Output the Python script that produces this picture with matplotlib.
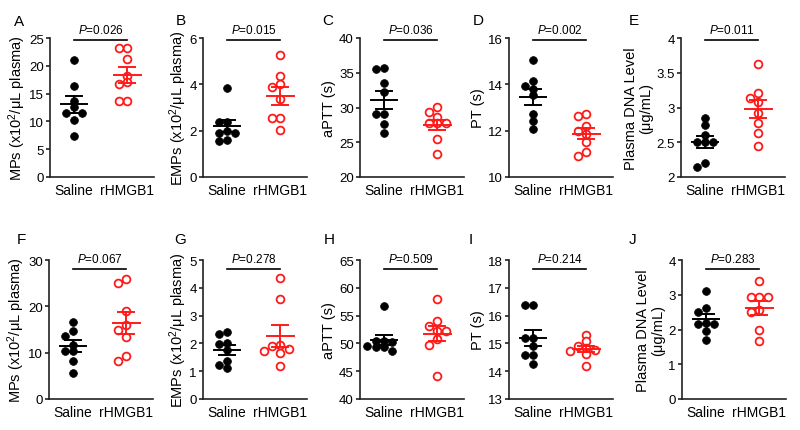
import numpy as np
import matplotlib
matplotlib.use("Agg")
import matplotlib.pyplot as plt

plt.rcParams['font.family'] = ['Liberation Sans', 'DejaVu Sans']
plt.rcParams['mathtext.fontset'] = 'custom'
plt.rcParams['mathtext.rm'] = 'Liberation Sans'
plt.rcParams['mathtext.it'] = 'Liberation Sans:italic'

# ---- data ----
groups = ["Saline", "rHMGB1"]
panel_letters = ["A", "B", "C", "D", "E", "F", "G", "H", "I", "J"]
p_values = ["0.026", "0.015", "0.036", "0.002", "0.011",
            "0.067", "0.278", "0.509", "0.214", "0.283"]

a_saline = [21.0, 16.3, 13.7, 12.6, 11.6, 11.6, 10.2, 7.4]
a_rhmgb1 = [23.2, 23.2, 21.3, 18.1, 17.0, 16.8, 13.6, 13.6]
b_saline = [3.86, 2.38, 2.38, 2.0, 1.88, 1.88, 1.6, 1.55]
b_rhmgb1 = [5.25, 4.36, 4.0, 3.9, 3.35, 2.53, 2.53, 2.05]
c_saline = [35.7, 35.5, 33.5, 32.3, 29.0, 29.0, 27.6, 26.4]
c_rhmgb1 = [30.1, 29.3, 28.7, 27.7, 27.7, 27.7, 25.5, 23.3]
d_saline = [15.03, 14.14, 13.93, 13.81, 13.53, 12.72, 12.4, 12.06]
d_rhmgb1 = [12.71, 12.63, 12.2, 11.97, 11.87, 11.51, 11.1, 10.91]
e_saline = [2.85, 2.75, 2.61, 2.51, 2.51, 2.51, 2.20, 2.14]
e_rhmgb1 = [3.63, 3.21, 3.14, 3.08, 2.92, 2.78, 2.63, 2.44]
f_saline = [16.7, 14.7, 13.5, 11.7, 10.3, 10.3, 8.1, 5.7]
f_rhmgb1 = [25.8, 25.0, 19.1, 16.0, 14.9, 13.3, 9.2, 8.1]
g_saline = [2.40, 2.34, 2.02, 1.99, 1.75, 1.37, 1.22, 1.10]
g_rhmgb1 = [4.36, 3.59, 1.93, 1.91, 1.79, 1.73, 1.65, 1.17]
h_saline = [56.7, 50.5, 50.4, 50.3, 49.5, 49.4, 49.3, 48.6]
h_rhmgb1 = [58.0, 54.0, 53.1, 52.2, 52.2, 50.8, 49.8, 44.1]
i_saline = [16.39, 16.39, 15.2, 15.19, 14.89, 14.59, 14.59, 14.27]
i_rhmgb1 = [15.31, 15.09, 14.89, 14.84, 14.77, 14.71, 14.62, 14.17]
j_saline = [3.12, 2.63, 2.49, 2.2, 2.15, 2.15, 1.96, 1.71]
j_rhmgb1 = [3.41, 2.93, 2.93, 2.93, 2.57, 2.5, 1.98, 1.66]

saline_sets = [a_saline, b_saline, c_saline, d_saline, e_saline,
               f_saline, g_saline, h_saline, i_saline, j_saline]
rhmgb1_sets = [a_rhmgb1, b_rhmgb1, c_rhmgb1, d_rhmgb1, e_rhmgb1,
               f_rhmgb1, g_rhmgb1, h_rhmgb1, i_rhmgb1, j_rhmgb1]

mp_label = r"MPs (x10$^{2}$/μL plasma)"
emp_label = r"EMPs (x10$^{2}$/μL plasma)"
dna_label = "Plasma DNA Level\n(μg/mL)"
y_labels = [mp_label, emp_label, "aPTT (s)", "PT (s)", dna_label,
            mp_label, emp_label, "aPTT (s)", "PT (s)", dna_label]
y_ticks = [[0, 5, 10, 15, 20, 25], [0, 2, 4, 6], [20, 25, 30, 35, 40],
           [10, 12, 14, 16], [2, 2.5, 3, 3.5, 4],
           [0, 10, 20, 30], [0, 1, 2, 3, 4, 5], [40, 45, 50, 55, 60, 65],
           [13, 14, 15, 16, 17, 18], [0, 1, 2, 3, 4]]

# ---- layout ----
W, H = 800, 431
fig = plt.figure(figsize=(W / 100, H / 100), dpi=100)
lefts_px = [50, 203, 360, 509, 681, 49, 203, 360, 509, 682]
ax_w_px, ax_h_px = 104, 139
bottoms_px = [178] * 5 + [400] * 5
letter_pos = [(19, 22), (181, 21), (328, 21), (478, 21), (634, 21),
              (21, 240), (180, 240), (329, 240), (471, 240), (633, 240)]
line_below_px = [2] * 5 + [9] * 5
label_pads = [0.5, 0.5, 2, 2, 2, 0.5, 0.5, 2, 2, 2]

XMIN, XMAX = -0.45, 1.5
px_per_x = ax_w_px / (XMAX - XMIN)


def swarm_offsets(vals, px_per_y, step_px=8.3, min_px=6.0):
    vals = np.asarray(vals, float)
    order = np.argsort(-vals, kind="stable")
    placed = []
    offs = np.zeros(len(vals))
    for i in order:
        y = vals[i] * px_per_y
        chosen = 0.0
        for k in [0, -1, 1, -2, 2, -3, 3]:
            x = k * step_px
            if all(np.hypot(x - px, y - py) >= min_px for px, py in placed):
                chosen = x
                break
        placed.append((chosen, y))
        offs[i] = chosen / px_per_x
    return offs


BLACK = "#000000"
RED = "#ff1a1a"
SPINE = "#222222"

for idx in range(10):
    ax = fig.add_axes([lefts_px[idx] / W, 1 - bottoms_px[idx] / H,
                       ax_w_px / W, ax_h_px / H])
    ticks = y_ticks[idx]
    ymin, ymax = ticks[0], ticks[-1]
    ax.set_xlim(XMIN, XMAX)
    ax.set_ylim(ymin, ymax)
    px_per_y = ax_h_px / (ymax - ymin)

    for gi, (vals, color, filled) in enumerate(
            [(saline_sets[idx], BLACK, True), (rhmgb1_sets[idx], RED, False)]):
        vals = np.asarray(vals, float)
        xs = gi + swarm_offsets(vals, px_per_y)
        ax.plot(xs, vals, linestyle="none", marker="o", markersize=5.6,
                markerfacecolor=color if filled else "white",
                markeredgecolor=color, markeredgewidth=1.3 if not filled else 0.5,
                zorder=2, clip_on=False)
        m = vals.mean()
        sem = vals.std(ddof=1) / np.sqrt(len(vals))
        ax.plot([gi - 0.25, gi + 0.25], [m, m], color=color, lw=1.4, zorder=3)
        ax.plot([gi, gi], [m - sem, m + sem], color=color, lw=1.4, zorder=3)
        for yy in (m - sem, m + sem):
            ax.plot([gi - 0.15, gi + 0.15], [yy, yy], color=color, lw=1.4, zorder=3)

    # significance bar
    yline = ymax - line_below_px[idx] / px_per_y
    ax.plot([0, 1], [yline, yline], color=BLACK, lw=1.2, clip_on=False)
    ax.text(0.5, yline + 7 / px_per_y, r"$\it{P}$=" + p_values[idx],
            ha="center", va="baseline", fontsize=8.5, clip_on=False)

    for s in ["top", "right"]:
        ax.spines[s].set_visible(False)
    for s in ["left", "bottom"]:
        ax.spines[s].set_linewidth(1.2)
        ax.spines[s].set_color(SPINE)
    ax.set_yticks(ticks)
    ax.set_yticklabels([f"{t:g}" for t in ticks])
    ax.set_xticks([0, 1])
    ax.set_xticklabels(groups)
    ax.tick_params(axis="x", length=0, labelsize=10, pad=4)
    ax.tick_params(axis="y", length=3, width=1.2, color=SPINE, labelsize=9.5, pad=1.5)
    ax.set_ylabel(y_labels[idx], fontsize=10.5, labelpad=label_pads[idx],
                  linespacing=1.1)

    lx, ly = letter_pos[idx]
    fig.text(lx / W, 1 - ly / H, panel_letters[idx], ha="center", va="center",
             fontsize=11)

fig.savefig("out.png", dpi=100)
